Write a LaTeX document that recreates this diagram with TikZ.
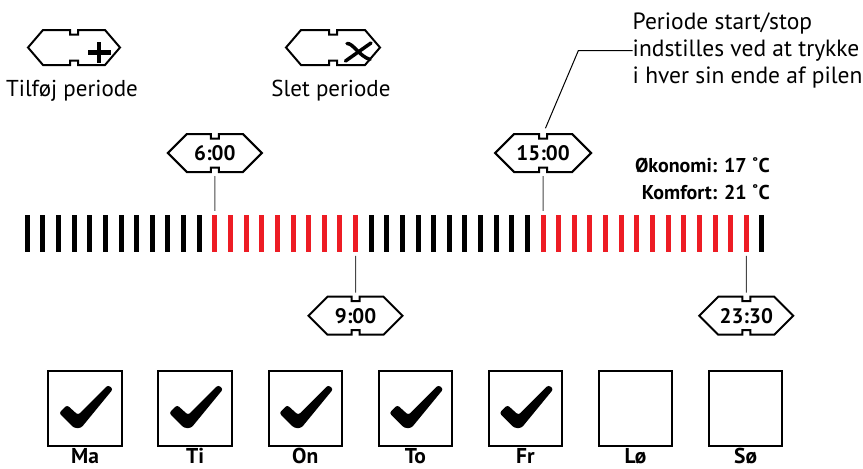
\documentclass[tikz,border=0pt]{standalone}
\usepackage{fontspec}
\setmainfont{PT Sans}
\definecolor{barred}{RGB}{237,28,36}
\definecolor{tickgrey}{RGB}{70,70,70}
\tikzset{
  % elongated hexagon with a small notch in the middle of the top and bottom edge
  pics/hexframe/.style n args={3}{code={
    \draw[line width=2pt, line join=miter]
      (-#1,0) -- (-#1+#3,-#2) -- (-4,-#2) -- (-4,-#2+4.5) -- (4,-#2+4.5) -- (4,-#2)
      -- (#1-#3,-#2) -- (#1,0) -- (#1-#3,#2) -- (4,#2) -- (4,#2-4.5) -- (-4,#2-4.5)
      -- (-4,#2) -- (-#1+#3,#2) -- cycle;
  }},
  % brush-like check mark, drawn around the centre of a day box
  pics/checkmark/.style={code={
    \fill[rounded corners=2.5pt]
      (-26,5) -- (-18,-3) -- (-7,7) -- (23,-23) -- (28,-19) -- (-4,20) -- (-11,20) -- cycle;
  }}
}
\begin{document}
\begin{tikzpicture}[x=1pt,y=-1pt,
  bar/.style={draw=none, minimum width=5pt, minimum height=36.7pt, inner sep=0pt},
  timelabel/.style={minimum width=94pt, minimum height=38pt, inner sep=0pt,
    font=\bfseries\fontsize{21}{21}\selectfont},
  iconframe/.style={minimum width=92pt, minimum height=35pt, inner sep=0pt},
  icontext/.style={anchor=base, inner sep=0pt, font=\fontsize{23}{26}\selectfont},
  tickline/.style={draw=tickgrey, line width=1pt, shorten <=4pt, shorten >=4pt},
  daybox/.style={draw, line width=2pt, minimum width=73.5pt, minimum height=75pt, inner sep=0pt},
  dayname/.style={anchor=base, inner sep=0pt, font=\bfseries\fontsize{21.5}{21.5}\selectfont},
  tempinfo/.style={anchor=base east, inner sep=0pt, font=\bfseries\fontsize{20}{20}\selectfont},
  note/.style={anchor=west, inner sep=0pt, align=left, font=\fontsize{23.5}{27.2}\selectfont}
]
\useasboundingbox (0,0) rectangle (863,469);

% --- add / delete period buttons
\node[iconframe] (add) at (74,47.5) {};
\pic at (add) {hexframe={46}{17.5}{15}};
\draw[line width=4.5pt] (88,52.5) -- (110.5,52.5) (99.2,42) -- (99.2,63);
\node[icontext] (addtxt) at (72,96) {Tilføj periode};

\node[iconframe] (del) at (333,47.5) {};
\pic at (del) {hexframe={47}{17.5}{15}};
\draw[line width=3.5pt, line cap=round] (347,43.5) .. controls (353,43) and (359,56) .. (370,59.5);
\draw[line width=3.5pt, line cap=round] (345.5,61) -- (371,43);
\node[icontext] (deltxt) at (331,96) {Slet periode};

% --- half-hour bars of the day
\foreach \i in {0,...,47}{
  \def\bcol{black}
  \ifnum\i>11 \ifnum\i<22 \def\bcol{barred}\fi\fi
  \ifnum\i>32 \ifnum\i<47 \def\bcol{barred}\fi\fi
  \node[bar, fill=\bcol] (b\i) at ({27.3+15.63*\i},233.3) {};
}

% --- period start / stop markers
\node[timelabel] (t6) at (214.86,153) {6:00};
\pic at (t6) {hexframe={47}{19}{19}};
\node[timelabel] (t15) at (543.09,153) {15:00};
\pic at (t15) {hexframe={48}{19}{19}};
\node[timelabel] (t9) at (355.53,315.7) {9:00};
\pic at (t9) {hexframe={47}{19}{19}};
\node[timelabel] (t2330) at (746.28,315.7) {23:30};
\pic at (t2330) {hexframe={47}{19}{19}};

\draw[tickline] (t6.south) -- (b12.north);
\draw[tickline] (t15.south) -- (b33.north);
\draw[tickline] (b21.south) -- (t9.north);
\draw[tickline] (b46.south) -- (t2330.north);

% --- explanation with leader line
\node[note] (note) at (632.5,50.7) {Periode start/stop\\indstilles ved at trykke\\i hver sin ende af pilen};
\coordinate (elbow) at (578.3,50.7);
\draw[line width=1pt, shorten <=6pt] (t15.north) -- (elbow) -- (note.west);

% --- temperatures
\node[tempinfo] (eco) at (770,172.7) {Økonomi: 17 ˚C};
\node[tempinfo] (comf) at (770,199.3) {Komfort: 21 ˚C};

% --- weekdays
\foreach \d/\name [count=\k from 0] in {ma/Ma,ti/Ti,on/On,to/To,fr/Fr,lo/Lø,so/Sø}{
  \node[daybox] (\d) at ({85.05+110.1*\k},408) {};
  \node[dayname] (\d txt) at ({85.05+110.1*\k},463) {\name};
}
\foreach \d in {ma,ti,on,to,fr}{
  \pic at (\d) {checkmark};
}
\end{tikzpicture}
\end{document}
